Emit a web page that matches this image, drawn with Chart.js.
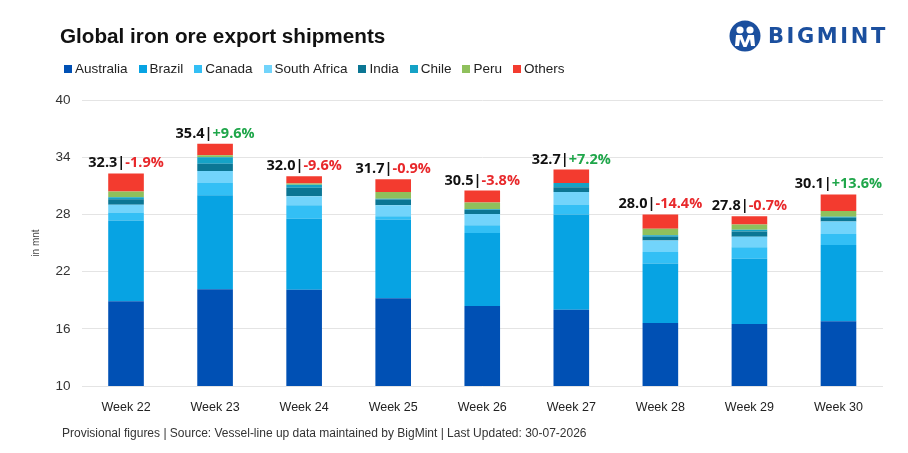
<!DOCTYPE html>
<html>
<head>
<meta charset="utf-8">
<script src="https://cdn.jsdelivr.net/npm/chart.js@4.4.1/dist/chart.umd.min.js"></script>
<style>
  body { margin: 0; background: #fff; }
  #wrap { position: relative; width: 908px; height: 453px; overflow: hidden; font-family: "Liberation Sans", Arial, sans-serif; }
  #c { position: absolute; left: 0; top: 0; }
  #title { position: absolute; left: 60px; top: 24px; font-size: 20.7px; font-weight: bold; color: #111; }
  #legend { position: absolute; left: 64px; top: 61px; display: flex; font-size: 13.5px; color: #222; }
  #legend span.item { display: flex; align-items: center; margin-right: 11px; }
  #legend span.sw { width: 8px; height: 8px; margin-right: 3px; display: inline-block; }
  #logo { position: absolute; left: 729px; top: 20px; display: flex; align-items: center; }
  #logo .txt { font-size: 21px; font-weight: bold; color: #1b4f9e; letter-spacing: 2.6px; margin-left: 7px; font-family: "DejaVu Sans", sans-serif; }
  #foot { position: absolute; left: 62px; top: 426px; font-size: 12px; color: #333; }
</style>
</head>
<body>
<div id="wrap">
  <canvas id="c" width="908" height="453"></canvas>
  <div id="title">Global iron ore export shipments</div>
  <div id="legend"></div>
  <div id="logo">
    <svg width="32" height="32" viewBox="-16 -16 32 32">
      <circle r="15.5" fill="#1b4f9e"/>
      <circle cx="-5" cy="-6" r="3.6" fill="#fff"/>
      <circle cx="5" cy="-6" r="3.6" fill="#fff"/>
      <path d="M-10 10 L-9 -1 L-3 -1 L0 7 L3 -1 L9 -1 L10 10 L6 10 L5 3 L1.5 11 L-1.5 11 L-5 3 L-6 10 Z" fill="#fff"/>
    </svg>
    <span class="txt">BIGMINT</span>
  </div>
  <div id="foot">Provisional figures | Source: Vessel-line up data maintained by BigMint | Last Updated: 30-07-2026</div>
</div>
<script>
const weeks = ['Week 22', 'Week 23', 'Week 24', 'Week 25', 'Week 26', 'Week 27', 'Week 28', 'Week 29', 'Week 30'];
const australia = [18.9, 20.15, 20.1, 19.2, 18.4, 18.0, 16.6, 16.5, 16.8];
const brazil = [8.45, 9.85, 7.45, 8.25, 7.65, 10.0, 6.25, 6.85, 8.0];
const canada = [0.85, 1.3, 1.4, 0.35, 0.8, 1.05, 1.2, 1.2, 1.15];
const southAfrica = [0.8, 1.25, 0.95, 1.15, 1.2, 1.3, 1.2, 1.1, 1.3];
const india = [0.6, 0.75, 0.9, 0.6, 0.4, 0.5, 0.4, 0.55, 0.4];
const chile = [0.2, 0.7, 0.3, 0.1, 0.1, 0.45, 0.15, 0.2, 0.1];
const peru = [0.6, 0.2, 0.15, 0.7, 0.7, 0, 0.7, 0.55, 0.6];
const others = [1.9, 1.2, 0.75, 1.35, 1.25, 1.4, 1.5, 0.85, 1.75];
const totals = [32.3, 35.4, 32.0, 31.7, 30.5, 32.7, 28.0, 27.8, 30.1];
const changes = [-1.9, 9.6, -9.6, -0.9, -3.8, 7.2, -14.4, -0.7, 13.6];

const series = [
  { label: 'Australia', data: australia, color: '#0050b4' },
  { label: 'Brazil', data: brazil, color: '#07a3e3' },
  { label: 'Canada', data: canada, color: '#33bff5' },
  { label: 'South Africa', data: southAfrica, color: '#72d4fb' },
  { label: 'India', data: india, color: '#0b7694' },
  { label: 'Chile', data: chile, color: '#15a2c6' },
  { label: 'Peru', data: peru, color: '#8fc05c' },
  { label: 'Others', data: others, color: '#f33b2f' }
];

// html legend
const legend = document.getElementById('legend');
series.forEach(s => {
  const item = document.createElement('span');
  item.className = 'item';
  item.innerHTML = '<span class="sw" style="background:' + s.color + '"></span>' + s.label;
  legend.appendChild(item);
});

// total | change labels over each bar
const topLabels = {
  id: 'topLabels',
  afterDatasetsDraw(chart) {
    const ctx = chart.ctx;
    const last = chart.getDatasetMeta(chart.data.datasets.length - 1);
    ctx.save();
    ctx.font = 'bold 14.5px "Open Sans", sans-serif';
    ctx.textBaseline = 'alphabetic';
    ctx.textAlign = 'left';
    last.data.forEach((bar, i) => {
      const a = totals[i].toFixed(1) + '|';
      const b = (changes[i] > 0 ? '+' : '') + changes[i].toFixed(1) + '%';
      const wa = ctx.measureText(a).width;
      const wb = ctx.measureText(b).width;
      const x0 = bar.x - (wa + wb) / 2;
      const y = bar.y - 6;
      ctx.fillStyle = '#111';
      ctx.fillText(a, x0, y);
      ctx.fillStyle = changes[i] < 0 ? '#e8282b' : '#1fa64a';
      ctx.fillText(b, x0 + wa, y);
    });
    ctx.restore();
  }
};

new Chart(document.getElementById('c'), {
  type: 'bar',
  data: {
    labels: weeks,
    datasets: series.map(s => ({
      label: s.label,
      data: s.data,
      backgroundColor: s.color,
      borderWidth: 0,
      barPercentage: 0.4,
      categoryPercentage: 1
    }))
  },
  options: {
    responsive: false,
    animation: false,
    layout: { padding: { top: 100, left: 30, right: 25, bottom: 40 } },
    plugins: {
      legend: { display: false },
      tooltip: { enabled: false }
    },
    scales: {
      x: {
        stacked: true,
        grid: { display: false },
        border: { display: false },
        ticks: { color: '#222', font: { family: 'Liberation Sans', size: 12.5 }, padding: 6 },
        afterFit: (scale) => { scale.height = 27; }
      },
      y: {
        stacked: true,
        min: 10,
        max: 40,
        ticks: { stepSize: 6, color: '#333', font: { family: 'Liberation Sans', size: 13.5 }, padding: 11 },
        grid: { color: '#e4e4e4', drawTicks: false },
        border: { display: false },
        title: { display: true, text: 'in mnt', color: '#444', font: { family: 'Liberation Sans', size: 10 }, padding: 0 },
        afterFit: (scale) => { scale.width = 51.5; }
      }
    }
  },
  plugins: [topLabels]
});
</script>
</body>
</html>
